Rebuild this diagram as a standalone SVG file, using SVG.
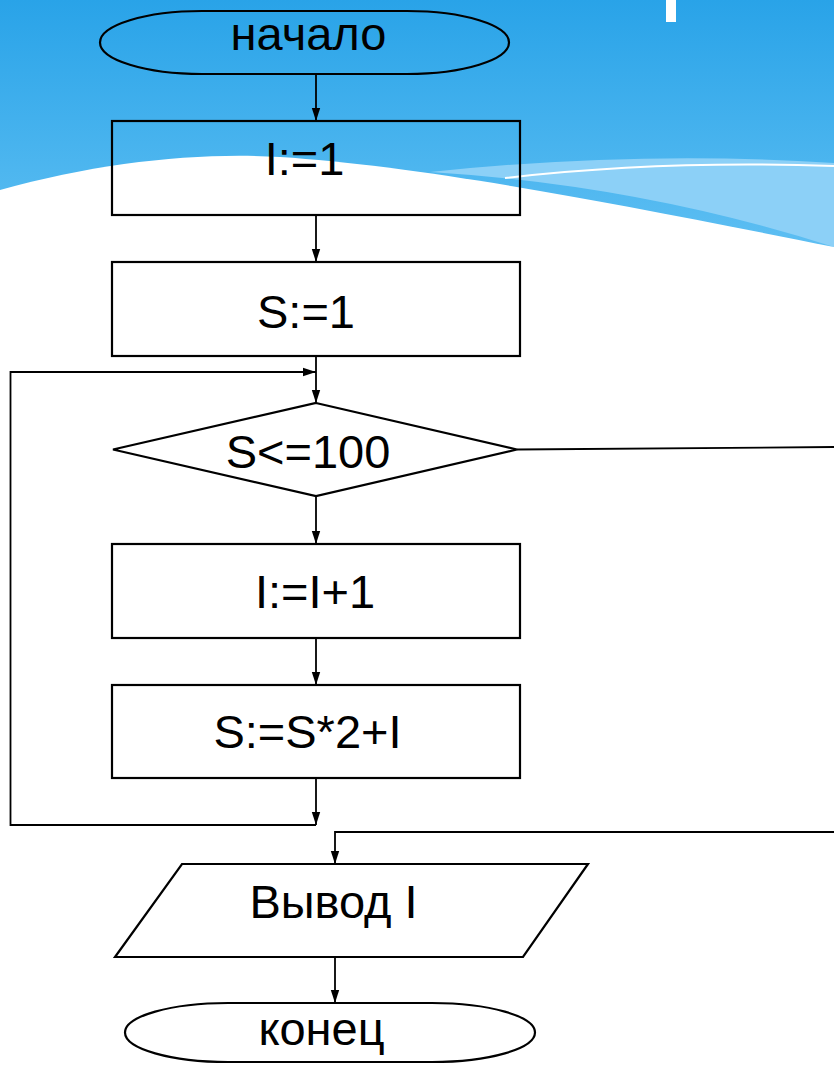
<svg xmlns="http://www.w3.org/2000/svg" width="834" height="1065" viewBox="0 0 834 1065">
<defs>
<linearGradient id="sky" x1="0" y1="0" x2="0" y2="1">
<stop offset="0" stop-color="#29A3E8"/>
<stop offset="1" stop-color="#60C0F3"/>
</linearGradient>
<marker id="ah" markerUnits="userSpaceOnUse" markerWidth="14" markerHeight="10" viewBox="0 0 14 10" refX="13" refY="5" orient="auto">
<path d="M0,0.8 L13,5 L0,9.2 Z" fill="#000"/>
</marker>
<style>
.shape{fill:none;stroke:#000;stroke-width:2.2}
.lbl{font-family:"Liberation Sans",Arial,sans-serif;font-size:47px;fill:#000;text-anchor:middle}
.conn{fill:none;stroke:#000;stroke-width:1.8}
</style>
</defs>
<g id="background">
<rect x="0" y="0" width="834" height="260" fill="url(#sky)"/>
<path d="M430,172 Q640,150 834,163 L834,247 Q640,185 430,172 Z" fill="#8CD0F7"/>
<path d="M505,178 Q660,160 834,166" fill="none" stroke="#fff" stroke-width="2"/>
<path d="M0,190 C100,162 200,152 280,157 C420,166 600,200 834,247 L834,1065 L0,1065 Z" fill="#fff"/>
<rect x="666" y="0" width="10" height="22" fill="#fff"/>
</g>
<g id="connectors">
<line class="conn" x1="316" y1="74" x2="316" y2="121" marker-end="url(#ah)"/>
<line class="conn" x1="316" y1="215" x2="316" y2="262" marker-end="url(#ah)"/>
<line class="conn" x1="316" y1="356" x2="316" y2="403" marker-end="url(#ah)"/>
<line class="conn" x1="316" y1="496" x2="316" y2="544" marker-end="url(#ah)"/>
<line class="conn" x1="316" y1="638" x2="316" y2="685" marker-end="url(#ah)"/>
<line class="conn" x1="316" y1="778" x2="316" y2="825" marker-end="url(#ah)"/>
<polyline class="conn" points="316,825 10.5,825 10.5,372 316,372" marker-end="url(#ah)"/>
<line class="conn" x1="517" y1="449.5" x2="834" y2="447"/>
<polyline class="conn" points="834,832 335,832 335,864" marker-end="url(#ah)"/>
<line class="conn" x1="335" y1="957" x2="335" y2="1003" marker-end="url(#ah)"/>
</g>
<g id="start">
<path class="shape" d="M202,11 L407,11 A102,31.5 0 0 1 407,74 L202,74 A102,31.5 0 0 1 202,11 Z"/>
<text class="lbl" x="308.5" y="50">начало</text>
</g>
<g id="init-i">
<rect class="shape" x="112" y="121" width="408" height="94"/>
<text class="lbl" x="304.5" y="175">I:=1</text>
</g>
<g id="init-s">
<rect class="shape" x="112" y="262" width="408" height="94"/>
<text class="lbl" x="306" y="328">S:=1</text>
</g>
<g id="condition">
<polygon class="shape" points="316,403 517,449.5 316,496 113,449.5"/>
<text class="lbl" x="308" y="468">S&lt;=100</text>
</g>
<g id="inc-i">
<rect class="shape" x="112" y="544" width="408" height="94"/>
<text class="lbl" x="315" y="608">I:=I+1</text>
</g>
<g id="update-s">
<rect class="shape" x="112" y="685" width="408" height="93"/>
<text class="lbl" x="307.5" y="748">S:=S*2+I</text>
</g>
<g id="output">
<polygon class="shape" points="182,864 588,864 523,957 115,957"/>
<text class="lbl" x="333.5" y="918">Вывод I</text>
</g>
<g id="end">
<path class="shape" d="M228,1003 L432,1003 A103,29.5 0 0 1 432,1062 L228,1062 A103,29.5 0 0 1 228,1003 Z"/>
<text class="lbl" x="321.5" y="1045">конец</text>
</g>
</svg>
